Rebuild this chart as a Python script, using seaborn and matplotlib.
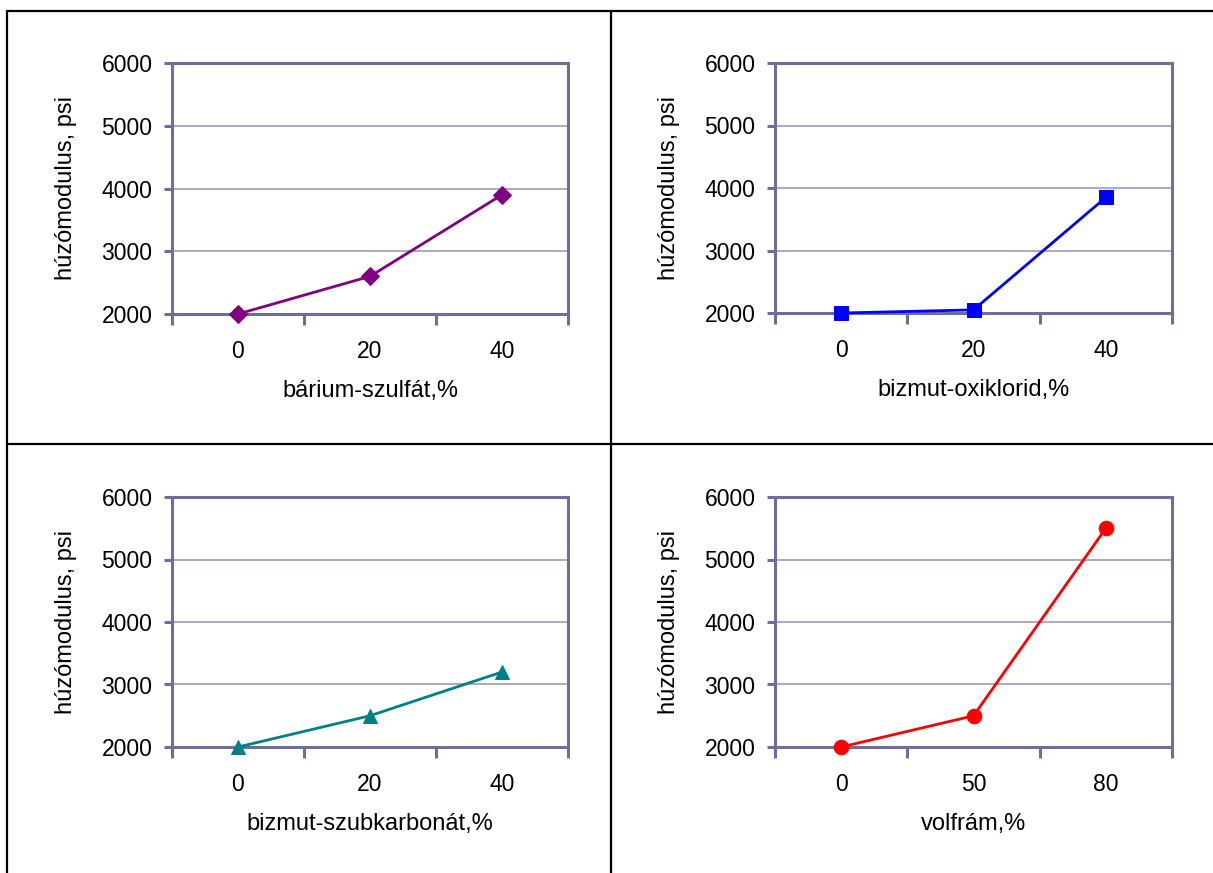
import matplotlib
matplotlib.use("Agg")
import matplotlib.pyplot as plt
from matplotlib.lines import Line2D
import seaborn as sns
import pandas as pd

sns.set_style("white")
plt.rcParams["font.family"] = ["Liberation Sans", "DejaVu Sans"]
plt.rcParams["text.color"] = "black"
plt.rcParams["axes.labelcolor"] = "black"
plt.rcParams["xtick.color"] = "black"
plt.rcParams["ytick.color"] = "black"

# Tensile modulus (psi) vs. filler loading (%)
barium_x = ["0", "20", "40"]
barium_y = [2000, 2600, 3900]

bismuth_oxy_x = ["0", "20", "40"]
bismuth_oxy_y = [2000, 2050, 3850]

bismuth_sub_x = ["0", "20", "40"]
bismuth_sub_y = [2000, 2500, 3200]

tungsten_x = ["0", "50", "80"]
tungsten_y = [2000, 2500, 5500]

y_ticks = [2000, 3000, 4000, 5000, 6000]
y_label = "húzómodulus, psi"

panels = [
    (barium_x, barium_y, "bárium-szulfát,%", "#800080", "D", 9.5),
    (bismuth_oxy_x, bismuth_oxy_y, "bizmut-oxiklorid,%", "#0000FF", "s", 10),
    (bismuth_sub_x, bismuth_sub_y, "bizmut-szubkarbonát,%", "#008080", "^", 10.5),
    (tungsten_x, tungsten_y, "volfrám,%", "#FF0000", "o", 10.5),
]

W, H = 1213, 873
fig = plt.figure(figsize=(W / 100, H / 100), dpi=100)

# axes rectangles in pixels: left, top, right, bottom
boxes = [
    (172, 63, 568, 314),
    (775, 63, 1172, 313),
    (172, 497, 568, 747),
    (775, 497, 1172, 747),
]

spine_col = "#6E6E9E"
grid_col = "#A4A4C4"

for (xs, ys, xlabel, col, mk, ms), (l, t, r, b) in zip(panels, boxes):
    ax = fig.add_axes([l / W, 1 - b / H, (r - l) / W, (b - t) / H])
    df = pd.DataFrame({"x": xs, "y": ys})
    sns.lineplot(data=df, x="x", y="y", sort=False, ax=ax, color=col,
                 linewidth=2.0, marker=mk, markersize=ms,
                 markeredgecolor=col, markerfacecolor=col, clip_on=False,
                 zorder=5)
    ax.set_xlim(-0.5, 2.5)
    ax.set_ylim(2000, 6000)
    ax.set_yticks(y_ticks)
    ax.set_xticks(range(len(xs)))
    ax.set_xticklabels(xs)
    ax.set_xticks([-0.5, 0.5, 1.5, 2.5], minor=True)
    ax.tick_params(axis="x", which="major", bottom=True, length=0, pad=19,
                   labelsize=16.5, labelcolor="black")
    ax.tick_params(axis="x", which="minor", bottom=True, length=8, width=2.2,
                   color=spine_col, direction="out")
    ax.tick_params(axis="y", which="major", left=True, length=6, width=2.2,
                   color=spine_col, direction="out", pad=8, labelsize=16.5,
                   labelcolor="black")
    ax.yaxis.grid(True, color=grid_col, linewidth=1.3)
    ax.set_axisbelow(True)
    for s in ax.spines.values():
        s.set_visible(True)
        s.set_color(spine_col)
        s.set_linewidth(2.2)
    ax.set_xlabel(xlabel, fontsize=17, labelpad=12, color="black")
    ax.set_ylabel(y_label, fontsize=17, labelpad=18, color="black")

# table-style frame around the four panels
def fig_line(x0, y0, x1, y1):
    fig.add_artist(Line2D([x0 / W, x1 / W], [1 - y0 / H, 1 - y1 / H],
                          color="black", linewidth=1.6,
                          transform=fig.transFigure))

fig_line(7, 11, W, 11)
fig_line(7, 11, 7, H)
fig_line(611, 11, 611, H)
fig_line(7, 444, W, 444)

fig.savefig("out.png", dpi=100)
